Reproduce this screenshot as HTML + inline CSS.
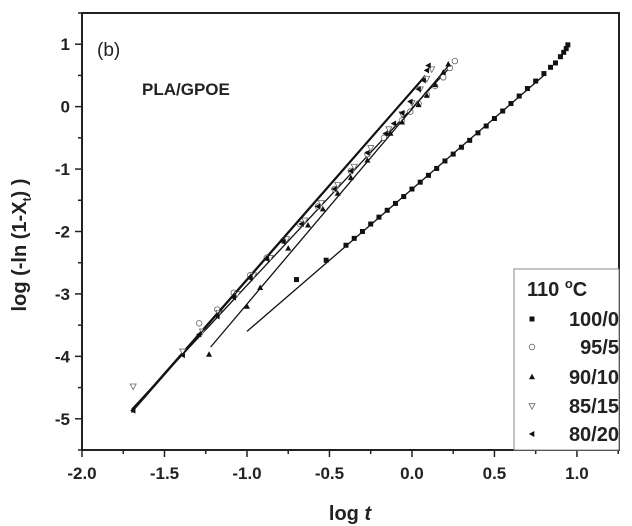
<!DOCTYPE html>
<html><head><meta charset="utf-8"><style>
body{margin:0;background:#fff;}
svg{display:block;font-family:"Liberation Sans",Arial,sans-serif;}
</style></head><body>
<svg id="chart" width="632" height="526" viewBox="0 0 632 526"></svg>
<script>
const xTicks=[-2.0,-1.5,-1.0,-0.5,0.0,0.5,1.0];
const xTickLabels=["-2.0","-1.5","-1.0","-0.5","0.0","0.5","1.0"];
const yTicks=[1,0,-1,-2,-3,-4,-5];
const yTickLabels=["1","0","-1","-2","-3","-4","-5"];
const seriesNames=["100/0","95/5","90/10","85/15","80/20"];
const x100=[-0.70,-0.52,-0.4,-0.35,-0.3,-0.25,-0.2,-0.15,-0.1,-0.05,0,0.05,0.1,0.15,0.2,0.25,0.3,0.35,0.4,0.45,0.5,0.55,0.6,0.65,0.7,0.75,0.8,0.84,0.87,0.9,0.92,0.935,0.945];
const y100=[-2.77,-2.46,-2.22,-2.11,-2.0,-1.88,-1.77,-1.66,-1.55,-1.44,-1.32,-1.21,-1.1,-0.99,-0.87,-0.76,-0.65,-0.54,-0.42,-0.31,-0.19,-0.07,0.05,0.17,0.29,0.41,0.53,0.63,0.7,0.8,0.87,0.93,0.99];
const x95=[-1.29,-1.18,-1.08,-0.98,-0.88,-0.78,-0.68,-0.57,-0.47,-0.37,-0.27,-0.17,-0.06,-0.01,0.04,0.09,0.14,0.19,0.23,0.26];
const y95=[-3.47,-3.25,-2.98,-2.7,-2.42,-2.15,-1.88,-1.6,-1.32,-1.03,-0.76,-0.5,-0.22,-0.08,0.05,0.19,0.33,0.47,0.62,0.73];
const x90=[-1.23,-1.0,-0.92,-0.75,-0.63,-0.54,-0.45,-0.37,-0.27,-0.13,-0.06,0.04,0.09,0.14,0.19,0.22];
const y90=[-3.97,-3.2,-2.9,-2.27,-1.9,-1.64,-1.39,-1.14,-0.86,-0.43,-0.25,0.03,0.18,0.35,0.55,0.68];
const x85=[-1.69,-1.39,-1.27,-1.17,-1.06,-0.96,-0.86,-0.76,-0.65,-0.55,-0.45,-0.35,-0.25,-0.14,-0.06,0.0,0.05,0.09,0.12];
const y85=[-4.48,-3.92,-3.6,-3.3,-3.0,-2.7,-2.42,-2.12,-1.82,-1.54,-1.25,-0.96,-0.66,-0.36,-0.12,0.06,0.28,0.45,0.6];
const x80=[-1.69,-1.39,-1.29,-1.18,-1.08,-0.98,-0.88,-0.78,-0.67,-0.57,-0.47,-0.37,-0.27,-0.16,-0.11,-0.06,-0.01,0.04,0.07,0.09,0.1];
const y80=[-4.87,-3.98,-3.65,-3.36,-3.06,-2.75,-2.44,-2.16,-1.88,-1.6,-1.32,-1.03,-0.74,-0.43,-0.27,-0.1,0.08,0.28,0.42,0.58,0.66];
const fitX1=[-1.0,-1.7,-1.22,-1.7,-1.7];
const fitY1=[-3.6,-4.85,-3.85,-4.87,-4.9];
const fitX2=[0.8,0.22,0.22,0.08,0.07];
const fitY2=[0.5,0.6,0.65,0.5,0.45];

const NS="http://www.w3.org/2000/svg";
const svg=document.getElementById('chart');
const L=82,R=619,T=13,B=450,XMIN=-2,XMAX=1.255,YMIN=-5.5,YMAX=1.5;
function sx(v){return L+(v-XMIN)/(XMAX-XMIN)*(R-L);}
function sy(v){return B-(v-YMIN)/(YMAX-YMIN)*(B-T);}
function mk(tag,attrs,parent){const e=document.createElementNS(NS,tag);for(const k in attrs)e.setAttribute(k,attrs[k]);(parent||svg).appendChild(e);return e;}

const frame=mk('rect',{x:L,y:T,width:R-L,height:B-T,fill:'none',stroke:'#222','stroke-width':2});



for(let v=-2;v<=1.2501;v+=0.25){
  const major=Math.abs(v*2-Math.round(v*2))<1e-6;
  const t=mk('line',{x1:sx(v),x2:sx(v),y1:B,y2:B+(major?7:4),stroke:'#222','stroke-width':1.5});
  
  
}
xTicks.forEach((v,i)=>{
  const t=mk('text',{x:sx(v),y:479,'text-anchor':'middle','font-size':17,'font-weight':'bold',fill:'#222'});
  t.textContent=xTickLabels[i];
  
  
});
for(let v=-5.5;v<=1.5001;v+=0.5){
  const major=Math.abs(v-Math.round(v))<1e-6;
  const t=mk('line',{x1:L,x2:L-(major?7:4),y1:sy(v),y2:sy(v),stroke:'#222','stroke-width':1.5});
  
  
}
yTicks.forEach((v,i)=>{
  const t=mk('text',{x:70,y:sy(v)+6,'text-anchor':'end','font-size':17,'font-weight':'bold',fill:'#222'});
  t.textContent=yTickLabels[i];
  
  
});
const xt=mk('text',{x:350,y:520,'text-anchor':'middle','font-size':20,'font-weight':'bold',fill:'#222'});
xt.innerHTML='log <tspan font-style="italic">t</tspan>';


const yt=mk('text',{x:0,y:0,'text-anchor':'middle','font-size':20,'font-weight':'bold',fill:'#222',transform:'translate(26,245) rotate(-90)'});
yt.innerHTML='log  (-ln (1-X<tspan font-size="12" dy="5">t</tspan><tspan dy="-5">) )</tspan>';


const pl=mk('text',{x:97,y:56,'font-size':19,fill:'#222'});pl.textContent='(b)';


const ttl=mk('text',{x:142,y:95,'font-size':17,'font-weight':'bold',fill:'#222'});ttl.textContent='PLA/GPOE';



function marker(kind,cx,cy,g){
  if(kind===0)return mk('rect',{x:cx-2.5,y:cy-2.5,width:5,height:5,fill:'#111'},g);
  if(kind===1)return mk('circle',{cx:cx,cy:cy,r:2.8,fill:'#fff',stroke:'#666','stroke-width':0.8},g);
  if(kind===2)return mk('polygon',{points:`${cx},${cy-3.2} ${cx-3},${cy+2.3} ${cx+3},${cy+2.3}`,fill:'#111'},g);
  if(kind===3)return mk('polygon',{points:`${cx},${cy+3.2} ${cx-3},${cy-2.3} ${cx+3},${cy-2.3}`,fill:'#fff',stroke:'#666','stroke-width':0.8},g);
  return mk('polygon',{points:`${cx-3.2},${cy} ${cx+2.3},${cy-3} ${cx+2.3},${cy+3}`,fill:'#111'},g);
}
const XS=[x100,x95,x90,x85,x80],YS=[y100,y95,y90,y85,y80];
XS.forEach((xs,s)=>{
  const g=mk('g',{});
  
  
  const f=mk('line',{x1:sx(fitX1[s]),y1:sy(fitY1[s]),x2:sx(fitX2[s]),y2:sy(fitY2[s]),stroke:'#111','stroke-width':1.3},g);
  
  
  xs.forEach((x,i)=>{
    const m=marker(s,sx(x),sy(YS[s][i]),g);
    
    
  });
});

const lg=mk('g',{});


const lb=mk('rect',{x:514,y:269,width:105,height:181,fill:'#fff',stroke:'#888','stroke-width':1},lg);


const lh=mk('text',{x:527,y:296,'font-size':20,'font-weight':'bold',fill:'#222'},lg);
lh.innerHTML='110 <tspan font-size="13" dy="-8">o</tspan><tspan dy="8">C</tspan>';


const ly=[319,347,377,406,434];
seriesNames.forEach((n,s)=>{
  const m=marker(s,532,ly[s],lg);
  
  
  const t=mk('text',{x:619,y:ly[s]+7,'text-anchor':'end','font-size':20,'font-weight':'bold',fill:'#222'},lg);
  t.textContent=n;
  
  
});
</script>
</body></html>
